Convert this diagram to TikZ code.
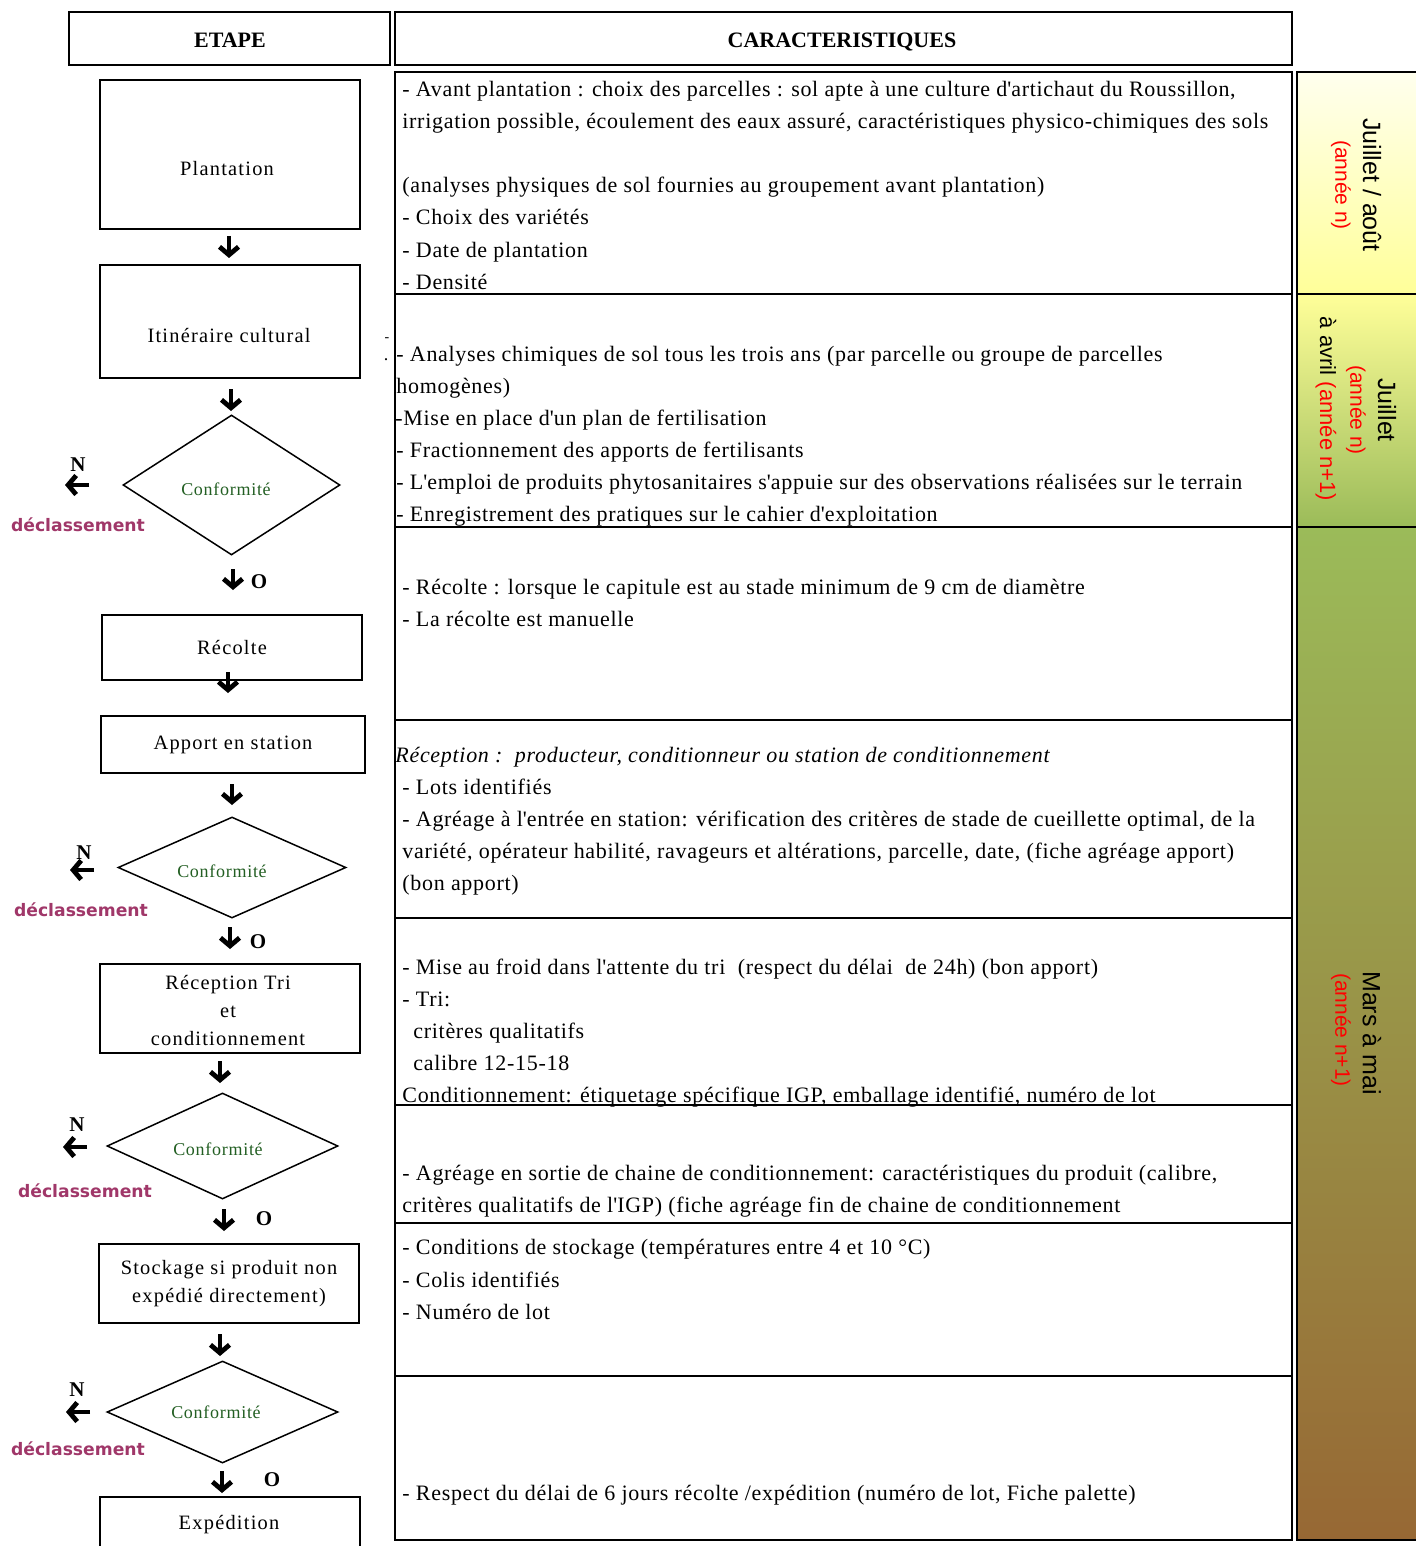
\documentclass[tikz,border=0pt]{standalone}
\usepackage{fontspec}
\setmainfont{Liberation Serif}
\newfontfamily\sansf{Liberation Sans}
\newfontfamily\declf{DejaVu Sans}
\newfontfamily\boxf{Liberation Serif}[LetterSpace=6]
\newfontfamily\conff{Liberation Serif}[LetterSpace=4]
\newfontfamily\tabf{Liberation Serif}[LetterSpace=3.2]
\newcommand\q{\textquotesingle}
\usetikzlibrary{shapes.geometric,arrows.meta}
\definecolor{confgreen}{RGB}{35,95,35}
\definecolor{declcol}{RGB}{160,55,105}
\definecolor{ylw}{RGB}{255,255,153}
\definecolor{ylwtop}{RGB}{255,255,238}
\definecolor{grn}{RGB}{155,187,89}
\definecolor{brn}{RGB}{151,104,52}
\definecolor{tred}{RGB}{255,0,0}
\begin{document}
\begin{tikzpicture}[x=0.5pt,y=-0.5pt,
  stepbox/.style={draw,line width=1pt,rectangle,inner sep=0pt,font=\boxf\fontsize{10.2}{14}\selectfont,align=center},
  boxtxt/.style={inner sep=0pt,font=\boxf\fontsize{10.2}{14}\selectfont},
  hdr/.style={draw,line width=1pt,rectangle,inner sep=0pt},
  hdrtxt/.style={inner sep=0pt,font=\bfseries\fontsize{11}{13}\selectfont},
  conf/.style={draw,line width=0.75pt,shape=diamond,inner sep=0pt},
  conftxt/.style={inner sep=0pt,font=\conff\fontsize{9}{11}\selectfont,text=confgreen},
  darr/.style={line width=2.4pt,-{Straight Barb[length=4pt,width=9.5pt]}},
  yn/.style={inner sep=0pt,font=\bfseries\fontsize{10.5}{12}\selectfont},
  decl/.style={inner sep=0pt,font=\declf\bfseries\fontsize{8.6}{10}\selectfont,text=declcol},
  rowbox/.style={draw,line width=1.2pt,rectangle,inner sep=0pt},
  tx/.style={anchor=base west,inner sep=0pt,font=\tabf\fontsize{11}{16}\selectfont},
  tlb/.style={inner sep=0pt,rotate=-90,font=\sansf\fontsize{12.5}{14}\selectfont},
  tlr/.style={inner sep=0pt,rotate=-90,font=\sansf\fontsize{10.5}{12}\selectfont,text=tred},
]
\useasboundingbox (0,0) rectangle (1415,1546);
\fill[white] (0,0) rectangle (1415,1546);

% ---------- headers
\node[hdr,minimum width=160.5pt,minimum height=26.5pt] (hetape) at (229.5,38.5) {};
\node[hdr,minimum width=448.5pt,minimum height=26.5pt] (hcarac) at (843.5,38.5) {};
\node[hdrtxt,anchor=base] (hetapet) at (230,48) {ETAPE};
\node[hdrtxt,anchor=base] (hcaract) at (842,48) {CARACTERISTIQUES};

% ---------- timeline bar
\shade[top color=ylwtop,bottom color=ylw] (1297,72) rectangle (1420,294);
\shade[top color=ylw,bottom color=grn] (1297,294) rectangle (1420,527);
\shade[top color=grn,bottom color=brn] (1297,527) rectangle (1420,1540);
\draw[line width=1.2pt] (1420,72) -- (1297,72) -- (1297,1540) -- (1420,1540);
\draw[line width=1.2pt] (1297,294) -- (1420,294);
\draw[line width=1.2pt] (1297,527) -- (1420,527);
\node[tlb] (tl1a) at (1372,185) {Juillet / août};
\node[tlr] (tl1b) at (1341,185) {(année n)};
\node[tlb] (tl2a) at (1387,410) {Juillet};
\node[tlr] (tl2b) at (1356,410) {(année n)};
\node[tlb,font=\sansf\fontsize{11}{13}\selectfont] (tl2c) at (1326,409) {à avril \textcolor{tred}{(année n+1)}};
\node[tlb] (tl3a) at (1372,1033) {Mars à mai};
\node[tlr] (tl3b) at (1341,1030) {(année n+1)};

% ---------- table rows
\node[rowbox,minimum width=448.5pt,minimum height=111pt] (r1) at (843.5,183) {};
\node[rowbox,minimum width=448.5pt,minimum height=116.5pt] (r2) at (843.5,410.5) {};
\node[rowbox,minimum width=448.5pt,minimum height=96.5pt] (r3) at (843.5,623.5) {};
\node[rowbox,minimum width=448.5pt,minimum height=99pt] (r4) at (843.5,819) {};
\node[rowbox,minimum width=448.5pt,minimum height=93.5pt] (r5) at (843.5,1011.5) {};
\node[rowbox,minimum width=448.5pt,minimum height=59pt] (r6) at (843.5,1164) {};
\node[rowbox,minimum width=448.5pt,minimum height=76.5pt] (r7) at (843.5,1299.5) {};
\node[rowbox,minimum width=448.5pt,minimum height=82pt] (r8) at (843.5,1458) {};

% row 1
\node[tx] (t11) at (402,97) {- Avant plantation : choix des parcelles : sol apte à une culture d\q artichaut du Roussillon,};
\node[tx] (t12) at (402,129) {irrigation possible, écoulement des eaux assuré, caractéristiques physico-chimiques des sols};
\node[tx] (t13) at (402,193) {(analyses physiques de sol fournies au groupement avant plantation)};
\node[tx] (t14) at (402,225) {- Choix des variétés};
\node[tx] (t15) at (402,257) {- Date de plantation};
\node[tx] (t16) at (402,289) {- Densité};
% row 2
\node[inner sep=0pt,font=\fontsize{7}{8}\selectfont] (m1) at (387,340) {-};
\node[inner sep=0pt,font=\fontsize{9}{9}\selectfont] (m2) at (386,360) {.};
\node[tx] (t21) at (396,361) {- Analyses chimiques de sol tous les trois ans (par parcelle ou groupe de parcelles};
\node[tx] (t22) at (396,393) {homogènes)};
\node[tx] (t23) at (395,425) {-Mise en place d\q un plan de fertilisation};
\node[tx] (t24) at (396,457) {- Fractionnement des apports de fertilisants};
\node[tx] (t25) at (396,489) {- L\q emploi de produits phytosanitaires s\q appuie sur des observations réalisées sur le terrain};
\node[tx] (t26) at (396,521) {- Enregistrement des pratiques sur le cahier d\q exploitation};
% row 3
\node[tx] (t31) at (402,594) {- Récolte : lorsque le capitule est au stade minimum de 9 cm de diamètre};
\node[tx] (t32) at (402,626) {- La récolte est manuelle};
% row 4
\node[tx,font=\tabf\itshape\fontsize{11}{16}\selectfont] (t41) at (395,762) {Réception :\ \ producteur, conditionneur ou station de conditionnement};
\node[tx] (t42) at (402,794) {- Lots identifiés};
\node[tx] (t43) at (402,826) {- Agréage à l\q entrée en station: vérification des critères de stade de cueillette optimal, de la};
\node[tx] (t44) at (402,858) {variété, opérateur habilité, ravageurs et altérations, parcelle, date, (fiche agréage apport)};
\node[tx] (t45) at (402,890) {(bon apport)};
% row 5
\node[tx] (t51) at (402,974) {- Mise au froid dans l\q attente du tri\ \ (respect du délai\ \ de 24h) (bon apport)};
\node[tx] (t52) at (402,1006) {- Tri:};
\node[tx] (t53) at (413,1038) {critères qualitatifs};
\node[tx] (t54) at (413,1070) {calibre 12-15-18};
\node[tx] (t55) at (402,1102) {Conditionnement: étiquetage spécifique IGP, emballage identifié, numéro de lot};
% row 6
\node[tx] (t61) at (402,1180) {- Agréage en sortie de chaine de conditionnement: caractéristiques du produit (calibre,};
\node[tx] (t62) at (402,1212) {critères qualitatifs de l\q IGP) (fiche agréage fin de chaine de conditionnement};
% row 7
\node[tx] (t71) at (402,1254) {- Conditions de stockage (températures entre 4 et 10 °C)};
\node[tx] (t72) at (402,1287) {- Colis identifiés};
\node[tx] (t73) at (402,1319) {- Numéro de lot};
% row 8
\node[tx] (t81) at (402,1500) {- Respect du délai de 6 jours récolte /expédition (numéro de lot, Fiche palette)};

% ---------- flow chart (left)
\node[stepbox,minimum width=130pt,minimum height=74.5pt] (plant) at (230,154.5) {};
\node[boxtxt] (plantt) at (227,169) {Plantation};
\node[stepbox,minimum width=130pt,minimum height=56.5pt] (itin) at (230,321.5) {};
\node[boxtxt] (itint) at (229,336) {Itinéraire cultural};
\node[conf,minimum width=108.5pt,minimum height=70pt] (c1) at (231.5,485) {};
\node[conftxt] (c1t) at (226,489) {Conformité};
\node[stepbox,minimum width=130pt,minimum height=32.5pt] (recol) at (232,647.5) {Récolte};
\node[stepbox,minimum width=132pt,minimum height=28.5pt] (apport) at (233,744.5) {Apport en station};
\node[conf,minimum width=114pt,minimum height=50.5pt] (c2) at (232,867.5) {};
\node[conftxt] (c2t) at (222,871) {Conformité};
\node[stepbox,minimum width=130pt,minimum height=44.5pt] (recep) at (230,1008.5) {};
\node[boxtxt,align=center] (recept) at (228,1010.5) {Réception Tri\\et\\conditionnement};
\node[conf,minimum width=115.5pt,minimum height=53pt] (c3) at (222.5,1146) {};
\node[conftxt] (c3t) at (218,1149) {Conformité};
\node[stepbox,minimum width=130pt,minimum height=39.5pt] (stock) at (229,1283.5) {Stockage si produit non\\expédié directement)};
\node[conf,minimum width=115.5pt,minimum height=51pt] (c4) at (222.5,1412) {};
\node[conftxt] (c4t) at (216,1412) {Conformité};
\draw[line width=1pt] (100,1560) -- (100,1497) -- (360,1497) -- (360,1560);
\node[boxtxt] (expe) at (229,1525) {Expédition};

% down arrows
\foreach \n/\x/\ya/\yb in {a1/229/236/258,a2/231/389/411,a3/233/569/590,a4/228/672/693,a5/232/784/805,a6/230/927/949,a7/220/1061/1083,a8/224/1209/1231,a9/220/1334/1356,a10/222/1471/1493}{
  \coordinate (\n s) at (\x,\ya);
  \coordinate (\n e) at (\x,\yb);
  \draw[darr] (\n s) -- (\n e);
}
% left arrows
\foreach \n/\xa/\xb/\y in {l1/89/65/485,l2/94/70/870,l3/87/63/1147,l4/90/66/1412}{
  \coordinate (\n s) at (\xa,\y);
  \coordinate (\n e) at (\xb,\y);
  \draw[darr] (\n s) -- (\n e);
}
% N / O labels
\node[yn] (n1) at (78,465) {N};
\node[yn] (n2) at (84,853) {N};
\node[yn] (n3) at (77,1125) {N};
\node[yn] (n4) at (77,1390) {N};
\node[yn] (o1) at (259,582) {O};
\node[yn] (o2) at (258,942) {O};
\node[yn] (o3) at (264,1219) {O};
\node[yn] (o4) at (272,1480) {O};
\node[decl] (d1) at (78,525) {déclassement};
\node[decl] (d2) at (81,910) {déclassement};
\node[decl] (d3) at (85,1191) {déclassement};
\node[decl] (d4) at (78,1449) {déclassement};
\end{tikzpicture}
\end{document}
